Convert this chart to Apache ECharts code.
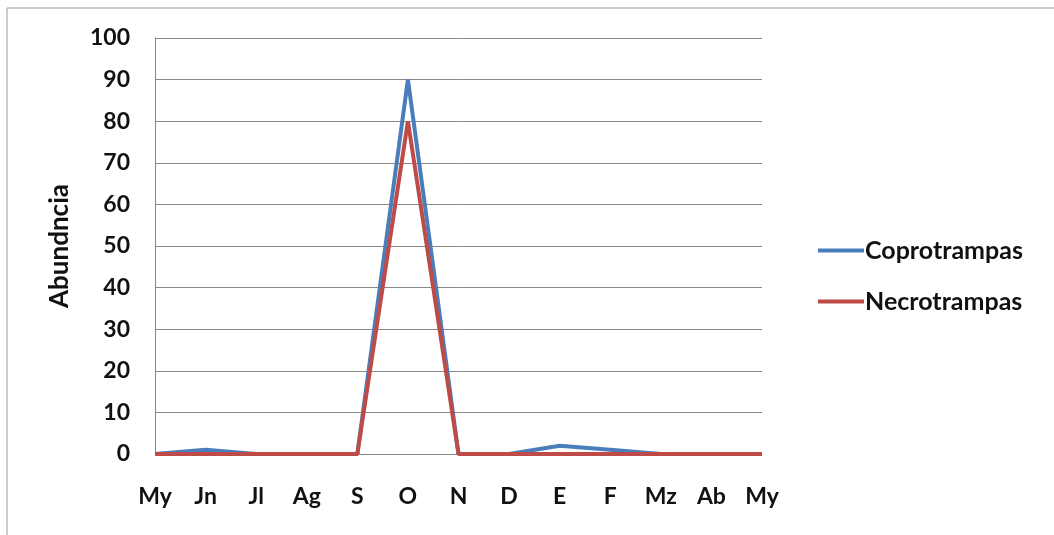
<!DOCTYPE html>
<html><head><meta charset="utf-8">
<script src="https://cdn.jsdelivr.net/npm/echarts@6/dist/echarts.min.js"></script>
<style>html,body{margin:0;padding:0;background:#fff}#c{width:1054px;height:535px}</style>
</head><body><div id="c"></div>
<script>
const categories = ['My','Jn','Jl','Ag','S','O','N','D','E','F','Mz','Ab','My'];
const coprotrampas = [0,1,0,0,0,90,0,0,2,1,0,0,0];
const necrotrampas = [0,0,0,0,0,80,0,0,0,0,0,0,0];
const seriesNames = ['Coprotrampas','Necrotrampas'];
const FONT = 'Lato, "Open Sans", sans-serif';
const chart = echarts.init(document.getElementById('c'));
chart.setOption({
  animation:false,
  graphic:[{type:'rect',shape:{x:7,y:8,width:1060,height:540},style:{fill:'none',stroke:'#9a9a9a',lineWidth:1}}],
  grid:{left:155,right:292,top:38,bottom:81,containLabel:false},
  legend:{orient:'vertical',left:813,top:233,itemGap:26,itemWidth:46,itemHeight:4,
    icon:'rect',textStyle:{fontFamily:FONT,fontWeight:'bold',fontSize:25,color:'#111',padding:[0,0,0,-4]},
    data:seriesNames},
  xAxis:{type:'category',data:categories,boundaryGap:false,
    axisLine:{show:false},axisTick:{show:false},
    axisLabel:{margin:31,fontFamily:FONT,fontWeight:'bold',fontSize:23,color:'#111'}},
  yAxis:{type:'value',min:0,max:100,interval:10,
    name:'Abundncia',nameLocation:'middle',nameGap:82,nameRotate:90,
    nameTextStyle:{fontFamily:FONT,fontWeight:'bold',fontSize:26,color:'#111'},
    axisLine:{show:true,lineStyle:{color:'#888',width:1}},axisTick:{show:false},
    splitLine:{lineStyle:{color:'#888',width:1}},
    axisLabel:{margin:25,fontFamily:FONT,fontWeight:'bold',fontSize:23,color:'#111'}},
  series:[
    {name:seriesNames[0],type:'line',data:coprotrampas,symbol:'none',lineStyle:{color:'#4a7ebb',width:4},itemStyle:{color:'#4a7ebb'},z:2},
    {name:seriesNames[1],type:'line',data:necrotrampas,symbol:'none',lineStyle:{color:'#be4b48',width:4},itemStyle:{color:'#be4b48'},z:3}
  ]
});
</script></body></html>
